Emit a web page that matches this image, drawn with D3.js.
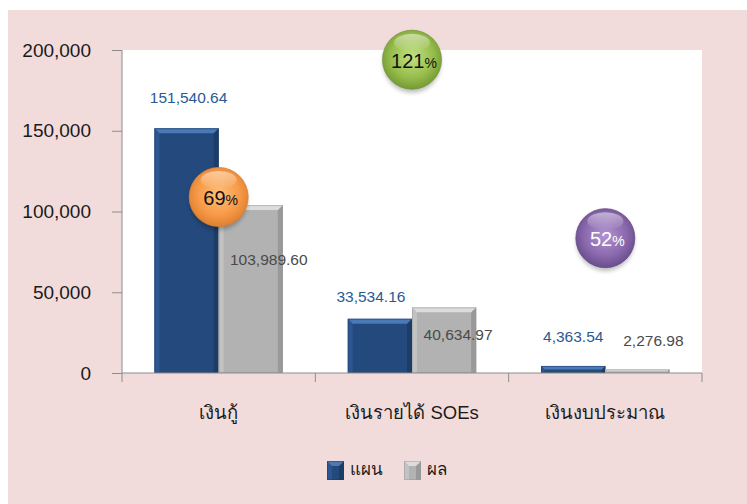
<!DOCTYPE html>
<html>
<head>
<meta charset="utf-8">
<script src="https://cdn.jsdelivr.net/npm/d3@7/dist/d3.min.js"></script>
<style>
  body { margin: 0; background: #fff; }
  text { font-family: Tahoma, "Liberation Sans", "Noto Sans", sans-serif; }
</style>
</head>
<body>
<svg width="747" height="504"></svg>
<script>
// Data
const categories = ["เงินกู้", "เงินรายได้ SOEs", "เงินงบประมาณ"];
const seriesNames = ["แผน", "ผล"];
const plan = [151540.64, 33534.16, 4363.54];
const result = [103989.60, 40634.97, 2276.98];
const yTicks = [0, 50000, 100000, 150000, 200000];

const svg = d3.select("svg");
const W = 747, H = 504;
const plotL = 122, plotR = 702, plotT = 50, plotB = 373;

// backgrounds
svg.append("rect").attr("x", 8).attr("y", 10).attr("width", W - 8).attr("height", H - 10).attr("fill", "#f2dcdb");
svg.append("rect").attr("x", plotL).attr("y", plotT).attr("width", plotR - plotL).attr("height", plotB - plotT).attr("fill", "#fff");

const x = d3.scaleBand().domain(categories).range([plotL, plotR]).paddingInner(0.336).paddingOuter(0.168);
const xs = d3.scaleBand().domain(seriesNames).range([0, x.bandwidth()]);
const y = d3.scaleLinear().domain([0, 200000]).range([plotB, plotT]);

// bar styles (face, top bevel, left, right)
const styles = {
  "แผน": { face: "#24497c", top: "#4a7ab6", left: "#2c5690", right: "#1d3c66", label: "#2a5a95" },
  "ผล": { face: "#b2b2b2", top: "#dcdcdc", left: "#c2c2c2", right: "#999999", label: "#4a4a4a" }
};

function bevelBar(g, bx, by, w, h, s) {
  const b = Math.min(5, h / 2);
  g.append("rect").attr("x", bx).attr("y", by).attr("width", w).attr("height", h).attr("fill", s.face);
  const poly = (pts, fill) => g.append("polygon").attr("points", pts.map(p => p.join(",")).join(" ")).attr("fill", fill);
  poly([[bx, by], [bx + b, by + b], [bx + b, by + h], [bx, by + h]], s.left);
  poly([[bx + w, by], [bx + w - b, by + b], [bx + w - b, by + h], [bx + w, by + h]], s.right);
  poly([[bx, by], [bx + w, by], [bx + w - b, by + b], [bx + b, by + b]], s.top);
  g.append("rect").attr("x", bx + 0.5).attr("y", by + 0.5).attr("width", w - 1).attr("height", Math.max(0, h - 1))
    .attr("fill", "none").attr("stroke", s.right).attr("stroke-opacity", 0.5);
}

// y axis
const yAxis = svg.append("g").attr("transform", `translate(${plotL},0)`)
  .call(d3.axisLeft(y).tickValues(yTicks).tickSize(10).tickPadding(21).tickFormat(d3.format(",")));
yAxis.select(".domain").attr("stroke", "#8c8c8c").attr("d", `M0,${plotT}V${plotB}`);
yAxis.selectAll(".tick line").attr("stroke", "#8c8c8c");
yAxis.selectAll(".tick text").attr("font-size", 19).attr("fill", "#1a1a1a")
  .style("font-family", 'Tahoma, "Liberation Sans", sans-serif');

// bars
const series = [plan, result];
const barG = svg.append("g");
categories.forEach((c, i) => {
  seriesNames.forEach((s, j) => {
    const v = series[j][i];
    bevelBar(barG, x(c) + xs(s), y(v), xs.bandwidth(), y(0) - y(v), styles[s]);
  });
});

// x axis
const xAxis = svg.append("g").attr("transform", `translate(0,${plotB})`);
xAxis.append("line").attr("x1", plotL).attr("x2", plotR).attr("stroke", "#8c8c8c");
const bounds = [plotL].concat(categories.map(c => x(c) + x.bandwidth() + x.step() * x.paddingInner() / 2));
bounds[bounds.length - 1] = plotR;
xAxis.selectAll(".xt").data(bounds).join("line")
  .attr("x1", d => d).attr("x2", d => d).attr("y1", 0).attr("y2", 9).attr("stroke", "#8c8c8c");
xAxis.selectAll(".cat").data(categories).join("text")
  .attr("x", d => x(d) + x.bandwidth() / 2).attr("y", 46)
  .attr("text-anchor", "middle").attr("font-size", 18.5).attr("fill", "#1a1a1a").text(d => d);

// data labels (hand nudged as in the original)
const nudge = { "แผน": [[2, -25], [-9, -17], [0, -24]], "ผล": [[18, 60], [14, 33], [16, -23]] };
const fmt = d3.format(",.2f");
categories.forEach((c, i) => {
  seriesNames.forEach((s, j) => {
    const v = series[j][i];
    svg.append("text")
      .attr("x", x(c) + xs(s) + xs.bandwidth() / 2 + nudge[s][i][0])
      .attr("y", y(v) + nudge[s][i][1])
      .attr("text-anchor", "middle").attr("font-size", 15.5).attr("fill", styles[s].label)
      .text(fmt(v));
  });
});

// percentage bubbles
const defs = svg.append("defs");
const bubbleColors = [
  { base: "#f79a48", light: "#fdc07a", dark: "#de8030", text: "#111" },
  { base: "#97bd4c", light: "#c2e282", dark: "#759a35", text: "#111" },
  { base: "#8a69ad", light: "#b293d1", dark: "#6a4d8c", text: "#fff" }
];
const bubbleAt = [109000, 194000, 83500];
const shadow = defs.append("filter").attr("id", "sh").attr("x", "-30%").attr("y", "-30%").attr("width", "160%").attr("height", "160%");
shadow.append("feGaussianBlur").attr("stdDeviation", 2);
bubbleColors.forEach((bc, i) => {
  const gr = defs.append("radialGradient").attr("id", "bub" + i).attr("cx", "50%").attr("cy", "45%").attr("r", "55%");
  gr.append("stop").attr("offset", "0%").attr("stop-color", bc.light);
  gr.append("stop").attr("offset", "65%").attr("stop-color", bc.base);
  gr.append("stop").attr("offset", "100%").attr("stop-color", bc.dark);
});
const gloss = defs.append("linearGradient").attr("id", "gloss").attr("x1", 0).attr("x2", 0).attr("y1", 0).attr("y2", 1);
gloss.append("stop").attr("offset", "0%").attr("stop-color", "#fff").attr("stop-opacity", 0.5);
gloss.append("stop").attr("offset", "100%").attr("stop-color", "#fff").attr("stop-opacity", 0);

categories.forEach((c, i) => {
  const cx = x(c) + x.bandwidth() / 2, cy = y(bubbleAt[i]);
  const pct = Math.round(result[i] / plan[i] * 100);
  const g = svg.append("g");
  g.append("ellipse").attr("cx", cx).attr("cy", cy + 3).attr("rx", 29).attr("ry", 30)
    .attr("fill", "#000").attr("opacity", 0.25).attr("filter", "url(#sh)");
  g.append("circle").attr("cx", cx).attr("cy", cy).attr("r", 29.5).attr("fill", `url(#bub${i})`)
    .attr("stroke", bubbleColors[i].dark).attr("stroke-width", 0.8);
  g.append("ellipse").attr("cx", cx).attr("cy", cy - 17).attr("rx", 18).attr("ry", 9).attr("fill", "url(#gloss)");
  const t = g.append("text").attr("x", cx + 2).attr("y", cy + 8).attr("text-anchor", "middle")
    .attr("fill", bubbleColors[i].text);
  t.append("tspan").attr("font-size", 20).text(pct);
  t.append("tspan").attr("font-size", 14).text("%");
});

// legend
const legend = svg.append("g");
const legX = [327, 404];
seriesNames.forEach((s, j) => {
  bevelBar(legend, legX[j], 461, 17, 19, styles[s]);
  legend.append("text").attr("x", legX[j] + 23).attr("y", 475).attr("font-size", 17)
    .attr("fill", "#1a1a1a").text(s);
});
</script>
</body>
</html>
